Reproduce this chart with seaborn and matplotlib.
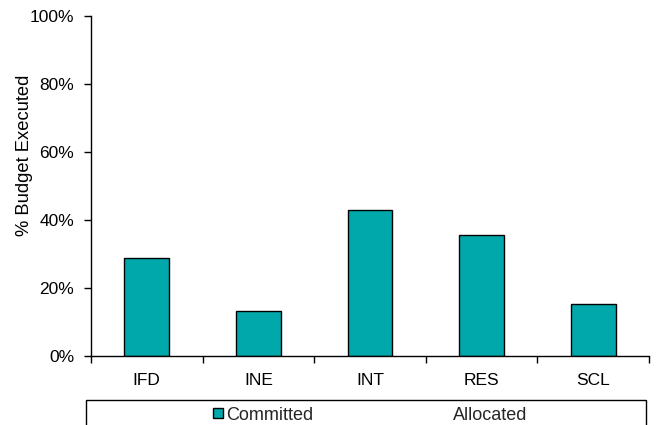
import matplotlib
matplotlib.use("Agg")
import matplotlib.pyplot as plt
from matplotlib.patches import Patch, Rectangle
from matplotlib.ticker import PercentFormatter, FixedLocator
import seaborn as sns
import pandas as pd

# Budget execution by unit (% committed)
units = ["IFD", "INE", "INT", "RES", "SCL"]
committed = [28.7, 13.2, 42.9, 35.7, 15.4]
series_names = ["Committed", "Allocated"]

teal = "#00A8AC"

sns.set_theme(style="white")
plt.rcParams["font.family"] = ["Liberation Sans", "DejaVu Sans"]

df = pd.DataFrame({"unit": units, "committed": committed})

fig = plt.figure(figsize=(6.57, 4.25), dpi=100)
ax = fig.add_axes([91 / 657, 1 - 356 / 425, (649 - 91) / 657, (356 - 15.7) / 425])

sns.barplot(data=df, x="unit", y="committed", color=teal, width=0.4,
            edgecolor="black", linewidth=1.0, saturation=1, ax=ax)

ax.set_xlim(-0.5, len(units) - 0.5)
ax.set_ylim(0, 100)
ax.set_yticks([0, 20, 40, 60, 80, 100])
ax.yaxis.set_major_formatter(PercentFormatter(decimals=0))
ax.set_xlabel("")
ax.set_ylabel("% Budget Executed", fontsize=13.2, color="black")
ax.yaxis.set_label_coords(-0.104, 0.59)

for side in ["top", "right"]:
    ax.spines[side].set_visible(False)
for side in ["left", "bottom"]:
    ax.spines[side].set_color("black")
    ax.spines[side].set_linewidth(1.0)

ax.tick_params(axis="y", which="major", left=True, length=5, width=1,
               color="black", labelsize=12.5, labelcolor="black", pad=7)
ax.tick_params(axis="x", which="major", bottom=False, length=0, labelsize=12.5,
               labelcolor="black", pad=12)
ax.xaxis.set_minor_locator(FixedLocator([i - 0.5 for i in range(len(units) + 1)]))
ax.tick_params(axis="x", which="minor", bottom=True, length=5, width=1,
               color="black")

# legend box along the bottom edge
fig.patches.append(Rectangle((86 / 657, -0.05), (646 - 86) / 657,
                             (425 - 400) / 425 + 0.05,
                             transform=fig.transFigure, fill=False,
                             edgecolor="black", linewidth=1.0))
handles = [Patch(facecolor=teal, edgecolor="black", linewidth=1.0),
           Patch(facecolor="white", edgecolor="none")]
fig.legend(handles, series_names, loc="center left",
           bbox_to_anchor=(213 / 657, 1 - 415 / 425), ncol=2, frameon=False,
           fontsize=13, handlelength=0.53, handleheight=0.53,
           handletextpad=0.22, columnspacing=6.95, borderpad=0,
           borderaxespad=0)

fig.savefig("out.png", dpi=100)
